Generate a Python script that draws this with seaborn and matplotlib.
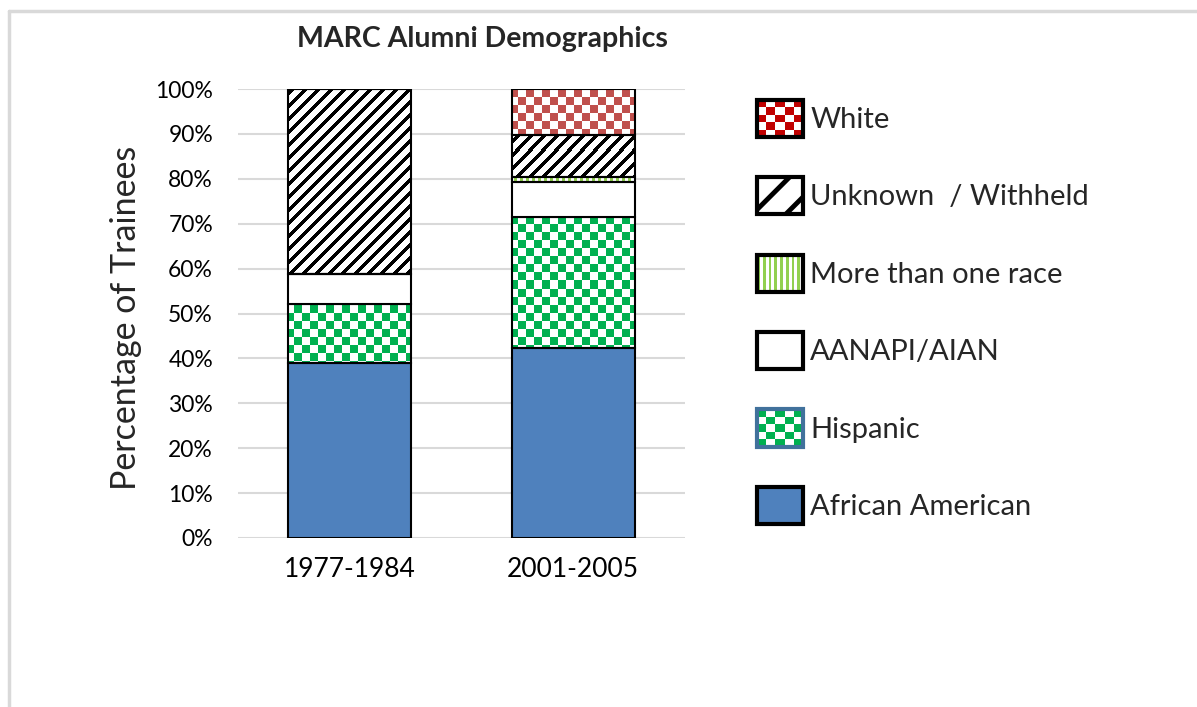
import matplotlib
matplotlib.use("Agg")
import matplotlib.pyplot as plt
import seaborn as sns
import numpy as np
from matplotlib.colors import ListedColormap
from matplotlib.patches import Rectangle
from matplotlib.lines import Line2D
from matplotlib.legend_handler import HandlerBase
from matplotlib.ticker import PercentFormatter

# ---------------------------------------------
# DATA (percent of trainees)
# ---------------------------------------------
periods = ["1977-1984", "2001-2005"]
african_american = [39.0, 42.3]
hispanic = [13.1, 29.2]
aanapi_aian = [6.7, 7.8]
more_than_one = [0.0, 1.1]
unknown = [41.2, 9.4]
white = [0.0, 10.2]

legend_labels = ["White", "Unknown  / Withheld", "More than one race",
                 "AANAPI/AIAN", "Hispanic", "African American"]

BLUE = "#4F81BD"
GREEN = "#00B050"
LIME = "#92D050"
RED = "#C0504D"
RED_LEG = "#C00000"
GRID = "#D9D9D9"

sns.set_theme(style="white")
plt.rcParams["font.family"] = ["Lato", "DejaVu Sans"]
plt.rcParams["hatch.linewidth"] = 3.5

W_PX, H_PX = 1197, 707
fig = plt.figure(figsize=(W_PX / 100, H_PX / 100), dpi=100)
ax = fig.add_axes([238 / W_PX, 1 - 538 / H_PX, 447 / W_PX, 449 / H_PX])

# pattern bitmaps, one pixel per screen pixel of the axes
ah, aw = 449, 447
yy, xx = np.mgrid[0:ah, 0:aw]
patterns = {
    "checker": ((xx // 8 + yy // 8) % 2 == 0).astype(int),
    "diag": ((xx + yy) % 13 < 5).astype(int),
    "vstripe": (xx % 6 < 3).astype(int),
}

# ---------------------------------------------
# STACKED BARS
# ---------------------------------------------
layers = [
    (african_american, "solid", BLUE),
    (hispanic, "checker", GREEN),
    (aanapi_aian, "solid", "white"),
    (more_than_one, "vstripe", LIME),
    (unknown, "diag", "black"),
    (white, "checker", RED),
]

bottom = np.zeros(len(periods))
for values, kind, color in layers:
    sns.barplot(x=periods, y=values, bottom=bottom, color=color if kind == "solid" else "white",
                saturation=1, width=0.55, edgecolor="black", linewidth=1.5,
                errorbar=None, zorder=2, ax=ax)
    if kind != "solid":
        for patch in ax.containers[-1]:
            patch.set_facecolor("none")
            im = ax.imshow(patterns[kind], cmap=ListedColormap(["white", color]),
                           extent=(0, 1, 0, 1), transform=ax.transAxes,
                           interpolation="nearest", aspect="auto", zorder=1.5,
                           vmin=0, vmax=1)
            im.set_clip_path(patch)
    bottom = bottom + np.array(values)

ax.set_xlim(-0.5, 1.5)
ax.set_ylim(0, 100)
ax.set_yticks(np.arange(0, 101, 10))
ax.yaxis.set_major_formatter(PercentFormatter(xmax=100, decimals=0))
ax.grid(axis="y", color=GRID, linewidth=1.5)
ax.set_axisbelow(True)
for s in ax.spines.values():
    s.set_visible(False)
ax.tick_params(axis="y", length=0, pad=18, labelsize=16.5, labelcolor="black")
ax.tick_params(axis="x", length=0, pad=14, labelsize=19, labelcolor="black")
ax.set_xlabel("")
ax.set_ylabel("")

fig.text(126 / W_PX, 1 - 318 / H_PX, "Percentage of Trainees", rotation=90,
         ha="center", va="center", fontsize=24.5)
fig.text(482 / W_PX, 1 - 39 / H_PX, "MARC Alumni Demographics",
         ha="center", va="center", fontsize=20.5, fontweight="bold")

# outer frame (Excel chart area border)
fig.add_artist(Line2D([9 / W_PX, 9 / W_PX], [0, 1 - 11 / H_PX], color=GRID,
                      linewidth=2.5, transform=fig.transFigure))
fig.add_artist(Line2D([9 / W_PX, 1], [1 - 11 / H_PX, 1 - 11 / H_PX], color=GRID,
                      linewidth=2.5, transform=fig.transFigure))


# ---------------------------------------------
# LEGEND WITH PATTERN SWATCHES
# ---------------------------------------------
class PatternHandler(HandlerBase):
    def __init__(self, kind, color, border="black"):
        super().__init__()
        self.kind, self.color, self.border = kind, color, border

    def create_artists(self, legend, orig_handle, xdescent, ydescent,
                       width, height, fontsize, trans):
        x0, y0 = -xdescent, -ydescent
        face = self.color if self.kind == "solid" else "white"
        arts = [Rectangle((x0, y0), width, height, facecolor=face,
                          edgecolor="none", transform=trans)]
        if self.kind == "checker":
            n = 5
            cw, ch = width / n, height / n
            for i in range(n):
                for j in range(n):
                    if (i + j) % 2 == 0:
                        arts.append(Rectangle((x0 + i * cw, y0 + j * ch), cw, ch,
                                              facecolor=self.color, edgecolor="none",
                                              transform=trans))
        elif self.kind == "vstripe":
            n = 8
            cw = width / n
            for i in range(n):
                arts.append(Rectangle((x0 + i * cw, y0), cw / 2, height,
                                      facecolor=self.color, edgecolor="none",
                                      transform=trans))
        elif self.kind == "diag":
            arts.append(Rectangle((x0, y0), width, height, facecolor="white",
                                  edgecolor=self.color, hatch="/", linewidth=0,
                                  transform=trans))
        arts.append(Rectangle((x0, y0), width, height, facecolor="none",
                              edgecolor=self.border, linewidth=3, transform=trans))
        return arts


legend_styles = [
    ("checker", RED_LEG, "black"),
    ("diag", "black", "black"),
    ("vstripe", LIME, "black"),
    ("solid", "white", "black"),
    ("checker", GREEN, "#41719C"),
    ("solid", BLUE, "black"),
]
handles = [Rectangle((0, 0), 1, 1) for _ in legend_labels]
hmap = {h: PatternHandler(*st) for h, st in zip(handles, legend_styles)}
fig.legend(handles, legend_labels, handler_map=hmap, loc="upper left",
           bbox_to_anchor=(757 / W_PX, 1 - 100 / H_PX), frameon=False,
           fontsize=21, handlelength=1.58, handleheight=1.58, handletextpad=0.25,
           labelspacing=1.38, borderpad=0, borderaxespad=0)

fig.savefig("out.png", dpi=100)
